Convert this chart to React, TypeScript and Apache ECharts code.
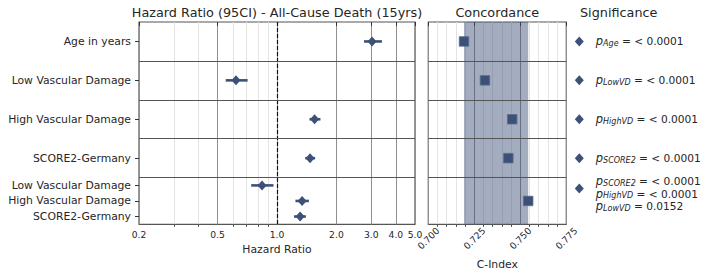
import React, { useEffect, useRef } from "react";
import * as echarts from "echarts";

// ---- data ----
const rowLabels = [
  "Age in years",
  "Low Vascular Damage",
  "High Vascular Damage",
  "SCORE2-Germany",
  "Low Vascular Damage",
  "High Vascular Damage",
  "SCORE2-Germany",
];
// rows belonging to each model panel
const groups = [[0], [1], [2], [3], [4, 5, 6]];
const hrPoint = [3.03, 0.62, 1.55, 1.47, 0.84, 1.34, 1.31];
const hrLower = [2.76, 0.55, 1.46, 1.39, 0.74, 1.24, 1.22];
const hrUpper = [3.40, 0.71, 1.66, 1.56, 0.96, 1.45, 1.40];
const concordance = [0.7194, 0.7308, 0.7456, 0.7435, 0.7543];
const pSubscripts = [["Age"], ["LowVD"], ["HighVD"], ["SCORE2"], ["SCORE2", "HighVD", "LowVD"]];
const pValues = [["< 0.0001"], ["< 0.0001"], ["< 0.0001"], ["< 0.0001"], ["< 0.0001", "< 0.0001", "0.0152"]];
const hrTicks = [0.2, 0.5, 1, 2, 3, 4, 5];
const hrMinorTicks = [0.3, 0.4, 0.6, 0.7, 0.8, 0.9];
const cTicks = [0.7, 0.725, 0.75, 0.775];
const cMinorTicks = [0.705, 0.71, 0.715, 0.72, 0.73, 0.735, 0.74, 0.745, 0.755, 0.76, 0.765, 0.77];

// ---- layout derived from panel structure ----
const groupHeights = groups.map((g) => (g.length > 1 ? 1.2 : 1));
const groupTop: number[] = [];
const rowPos: number[] = [];
let acc = 0;
groups.forEach((g, gi) => {
  groupTop.push(acc);
  const h = groupHeights[gi];
  g.forEach((r, k) => {
    rowPos[r] = acc + (h * (2 * k + 1)) / (2 * g.length);
  });
  acc += h;
});
const yMax = acc;
const separators = groupTop.slice(1);
const groupCenter = groupTop.map((t, i) => t + groupHeights[i] / 2);
const sigPos = groupTop.map((t, i) => (groups[i].length > 1 ? t + 0.28 : t + groupHeights[i] / 2));

const FONT = "DejaVu Sans";
const MARK = "#3d5178";
const TXT = "#262626";
const BORDER = "#555555";
const MAJOR = "#8f8f8f";
const MINOR = "#e3e3e3";

const GRID_TOP = 22;
const GRID_H = 202.3;

export default function App() {
  const ref = useRef<HTMLDivElement>(null);
  useEffect(() => {
    document.body.style.margin = "0";
    if (!ref.current) return;
    const chart = echarts.init(ref.current, undefined, { renderer: "svg" });

    const labelFor = (v: number) => {
      const i = rowPos.findIndex((p) => Math.abs(p - v) < 1e-6);
      return i >= 0 ? rowLabels[i] : "";
    };

    const hiddenY = (gridIndex: number) => ({
      type: "value",
      gridIndex,
      min: 0,
      max: yMax,
      inverse: true,
      show: false,
      splitLine: { show: false },
    });

    const sepLine = {
      silent: true,
      symbol: "none",
      label: { show: false },
      lineStyle: { color: BORDER, width: 1.2, type: "solid" },
      data: separators.map((v) => ({ yAxis: v })),
    };

    const tickLabelStyle = { fontFamily: FONT, fontSize: 9.2, color: TXT };

    const option: any = {
      animation: false,
      textStyle: { fontFamily: FONT },
      grid: [
        { left: 139, top: GRID_TOP, width: 276, height: GRID_H, show: true, borderColor: BORDER, borderWidth: 1.2, backgroundColor: "#fff" },
        { left: 428.3, top: GRID_TOP, width: 138, height: GRID_H, show: true, borderColor: BORDER, borderWidth: 1.2, backgroundColor: "#fff" },
        { left: 579.3, top: GRID_TOP, width: 130, height: GRID_H, show: false },
      ],
      xAxis: [
        {
          type: "log",
          logBase: 10,
          gridIndex: 0,
          min: 0.2,
          max: 5,
          position: "bottom",
          axisLine: { show: false },
          axisTick: { show: true, customValues: hrTicks, length: 4, lineStyle: { color: "#333" } },
          axisLabel: {
            customValues: hrTicks,
            margin: 6,
            ...tickLabelStyle,
            formatter: (v: number) => Number(v).toFixed(1),
          },
          splitLine: { show: true, lineStyle: { color: MAJOR, width: 1 } },
          name: "Hazard Ratio",
          nameLocation: "middle",
          nameGap: 19,
          nameTextStyle: { fontFamily: FONT, fontSize: 10.8, color: TXT },
        },
        {
          type: "log",
          logBase: 10,
          gridIndex: 0,
          min: 0.2,
          max: 5,
          position: "bottom",
          axisLine: { show: false },
          axisTick: { show: true, customValues: hrMinorTicks, length: 2.5, lineStyle: { color: "#444" } },
          axisLabel: { show: false },
          splitLine: { show: true, lineStyle: { color: MINOR, width: 1 } },
        },
        {
          type: "value",
          gridIndex: 1,
          min: 0.7,
          max: 0.775,
          position: "bottom",
          axisLine: { show: false },
          axisTick: { show: true, customValues: cTicks, length: 4, lineStyle: { color: "#333" } },
          axisLabel: {
            customValues: cTicks,
            rotate: 45,
            margin: 14,
            align: "center",
            verticalAlign: "middle",
            ...tickLabelStyle,
            formatter: (v: number) => Number(v).toFixed(3),
          },
          splitLine: { show: true, lineStyle: { color: MAJOR, width: 1 } },
          name: "C-Index",
          nameLocation: "middle",
          nameGap: 35,
          nameTextStyle: { fontFamily: FONT, fontSize: 10.8, color: TXT },
        },
        {
          type: "value",
          gridIndex: 1,
          min: 0.7,
          max: 0.775,
          position: "bottom",
          axisLine: { show: false },
          axisTick: { show: true, customValues: cMinorTicks, length: 2.5, lineStyle: { color: "#444" } },
          axisLabel: { show: false },
          splitLine: { show: true, lineStyle: { color: MINOR, width: 1 } },
        },
        { type: "value", gridIndex: 2, min: 0, max: 1, show: false, splitLine: { show: false } },
      ],
      yAxis: [
        {
          type: "value",
          gridIndex: 0,
          min: 0,
          max: yMax,
          inverse: true,
          axisLine: { show: false },
          splitLine: { show: false },
          axisTick: { show: true, customValues: rowPos, length: 4, lineStyle: { color: "#333" } },
          axisLabel: {
            customValues: rowPos,
            margin: 8,
            fontFamily: FONT,
            fontSize: 10.8,
            color: TXT,
            formatter: labelFor,
          },
        },
        hiddenY(1),
        hiddenY(2),
      ],
      series: [
        {
          type: "custom",
          xAxisIndex: 0,
          yAxisIndex: 0,
          data: rowPos.map((p, i) => [hrLower[i], hrUpper[i], p]),
          encode: { x: [0, 1], y: 2 },
          renderItem: (params: any, api: any) => {
            const a = api.coord([api.value(0), api.value(2)]);
            const b = api.coord([api.value(1), api.value(2)]);
            return {
              type: "line",
              shape: { x1: a[0], y1: a[1], x2: b[0], y2: b[1] },
              style: { stroke: MARK, lineWidth: 2.6 },
            };
          },
          markLine: {
            silent: true,
            symbol: "none",
            label: { show: false },
            lineStyle: { color: "#111", width: 1.2, type: [4, 2] },
            data: [{ xAxis: 1 }],
          },
          z: 3,
        },
        {
          type: "scatter",
          xAxisIndex: 0,
          yAxisIndex: 0,
          data: rowPos.map((p, i) => [hrPoint[i], p]),
          symbol: "diamond",
          symbolSize: [9, 10],
          itemStyle: { color: MARK, opacity: 1 },
          markLine: sepLine,
          z: 4,
        },
        {
          type: "scatter",
          xAxisIndex: 2,
          yAxisIndex: 1,
          data: groupCenter.map((p, i) => [concordance[i], p]),
          symbol: "rect",
          symbolSize: 9.5,
          itemStyle: { color: MARK, opacity: 1, borderColor: "#5a6b8c", borderWidth: 0.8 },
          markArea: {
            silent: true,
            itemStyle: { color: "rgba(61,81,120,0.47)" },
            data: [[{ xAxis: Math.min(...concordance) }, { xAxis: Math.max(...concordance) }]],
          },
          markLine: sepLine,
          z: 4,
        },
        {
          type: "scatter",
          xAxisIndex: 4,
          yAxisIndex: 2,
          data: sigPos.map((p, i) => ({
            value: [0, p],
            label: { offset: groups[i].length > 1 ? [0, 5] : [0, 0] },
          })),
          symbol: "diamond",
          symbolSize: [9, 10],
          itemStyle: { color: MARK, opacity: 1 },
          label: {
            show: true,
            position: "right",
            distance: 12,
            color: TXT,
            formatter: (params: any) => {
              const i = params.dataIndex;
              return pSubscripts[i]
                .map((s, k) => `{p|p}{s|${s}}{t| = ${pValues[i][k]}}`)
                .join("\n");
            },
            rich: {
              p: { fontFamily: FONT, fontStyle: "italic", fontSize: 11.5, lineHeight: 12.7, color: TXT },
              s: { fontFamily: FONT, fontStyle: "italic", fontSize: 8, lineHeight: 7, verticalAlign: "bottom", color: TXT },
              t: { fontFamily: FONT, fontSize: 10.6, lineHeight: 12.7, color: TXT },
            },
          },
        },
      ],
      graphic: [
        {
          type: "text",
          x: 277,
          y: 12,
          style: {
            text: "Hazard Ratio (95CI) - All-Cause Death (15yrs)",
            font: `12.8px "${FONT}"`,
            fill: TXT,
            align: "center",
            verticalAlign: "middle",
            textAlign: "center",
            textVerticalAlign: "middle",
          },
        },
        {
          type: "text",
          x: 497.3,
          y: 12,
          style: {
            text: "Concordance",
            font: `12.8px "${FONT}"`,
            fill: TXT,
            align: "center",
            verticalAlign: "middle",
            textAlign: "center",
            textVerticalAlign: "middle",
          },
        },
        {
          type: "text",
          x: 580,
          y: 12,
          style: {
            text: "Significance",
            font: `12.8px "${FONT}"`,
            fill: TXT,
            align: "left",
            verticalAlign: "middle",
            textAlign: "left",
            textVerticalAlign: "middle",
          },
        },
      ],
    };

    chart.setOption(option);
    return () => chart.dispose();
  }, []);

  return <div ref={ref} style={{ width: 718, height: 278 }} />;
}
